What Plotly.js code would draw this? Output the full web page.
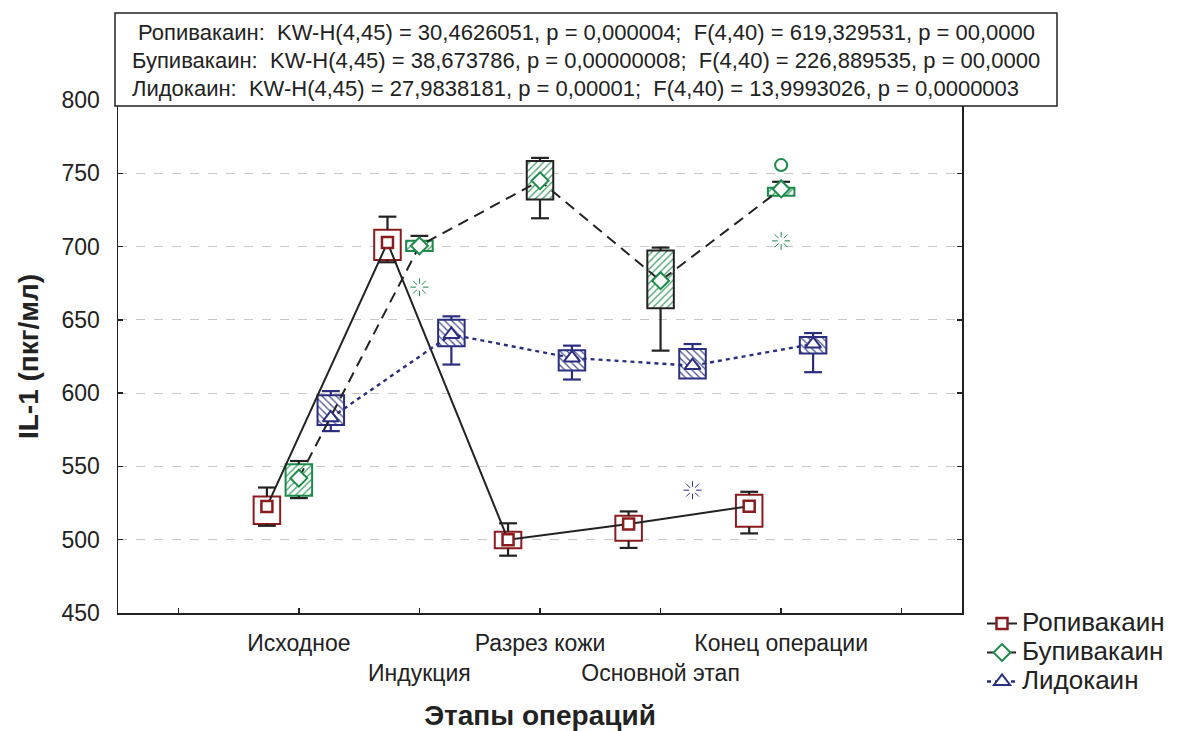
<!DOCTYPE html>
<html>
<head>
<meta charset="utf-8">
<script src="https://cdn.plot.ly/plotly-3.0.1.min.js"></script>
<style>html,body{margin:0;padding:0;background:#fff;}#chart{width:1202px;height:731px;}</style>
</head>
<body>
<div id="chart"></div>
<script>
// ---------- DATA ----------
const stages = ['Исходное', 'Индукция', 'Разрез кожи', 'Основной этап', 'Конец операции'];
const groupNames = ['Ропивакаин', 'Бупивакаин', 'Лидокаин'];

// Ропивакаин
const ropMean = [522.7, 702.7, 500.0, 510.7, 522.9];
const ropQ1   = [510.7, 690.9, 494.1, 499.3, 508.8];
const ropQ3   = [529.5, 711.4, 505.4, 516.3, 530.6];
const ropLo   = [509.5, 689.3, 489.1, 494.4, 504.3];
const ropHi   = [535.6, 720.4, 511.2, 519.3, 532.7];

// Бупивакаин
const bupMean = [542.0, 700.5, 744.9, 676.7, 739.3];
const bupQ1   = [530.0, 697.0, 732.2, 658.0, 734.7];
const bupQ3   = [551.5, 704.0, 758.3, 697.3, 740.1];
const bupLo   = [528.4, 697.0, 719.3, 629.0, 734.7];
const bupHi   = [553.7, 707.3, 760.5, 699.3, 744.2];
const bupOutStage = ['Конец операции'];
const bupOutVal   = [755.6];
const bupExtStage = ['Индукция', 'Конец операции'];
const bupExtVal   = [672.3, 703.9];

// Лидокаин
const lidMean = [583.2, 640.0, 624.0, 618.8, 633.5];
const lidQ1   = [578.2, 632.0, 615.4, 610.0, 627.0];
const lidQ3   = [598.6, 650.1, 629.3, 630.1, 638.3];
const lidLo   = [574.1, 619.5, 609.3, 610.0, 614.3];
const lidHi   = [601.4, 652.4, 632.4, 633.5, 641.0];
const lidExtStage = ['Основной этап'];
const lidExtVal   = [533.8];

const statLines = [
  '\u00a0Ропивакаин:\u00a0\u00a0KW-H(4,45) = 30,4626051, p = 0,000004;\u00a0\u00a0F(4,40) = 619,329531, p = 00,0000',
  'Бупивакаин:\u00a0\u00a0KW-H(4,45) = 38,673786, p = 0,00000008;\u00a0\u00a0F(4,40) = 226,889535, p = 00,0000',
  'Лидокаин:\u00a0\u00a0KW-H(4,45) = 27,9838181, p = 0,00001;\u00a0\u00a0F(4,40) = 13,9993026, p = 0,0000003'
];
const tickText = ['', 'Исходное', '<br>Индукция', 'Разрез кожи', '<br>Основной этап', 'Конец операции', ''];

// ---------- STYLE ----------
const RED = '#8a1c1f', GREEN = '#1d8a4b', NAVY = '#2a2e7c', DARK = '#222222';
const OFF = [-0.265, 0, 0.265];
const BOXW = 0.22, CAP = 0.074;
const FONT = 'Liberation Sans, Arial, sans-serif';

function pos(stage, off) { return stages.indexOf(stage) + 1 + off; }
function xsFor(off) { return stages.map(s => pos(s, off)); }

function boxTrace(off, q1, q3, fill, lineColors, pattern) {
  const t = {
    type: 'bar', x: xsFor(off), base: q1, y: q3.map((v, i) => v - q1[i]),
    width: BOXW, showlegend: false, hoverinfo: 'skip',
    marker: { color: fill, line: { color: lineColors, width: 2 } }
  };
  if (pattern) t.marker.pattern = pattern;
  return t;
}

function whiskerTrace(off, q1, q3, lo, hi, color) {
  const x = [], y = [];
  stages.forEach((s, i) => {
    const xc = pos(s, off);
    if (hi[i] > q3[i]) {
      x.push(xc, xc, null, xc - CAP, xc + CAP, null);
      y.push(q3[i], hi[i], null, hi[i], hi[i], null);
    }
    if (lo[i] < q1[i]) {
      x.push(xc, xc, null, xc - CAP, xc + CAP, null);
      y.push(q1[i], lo[i], null, lo[i], lo[i], null);
    }
  });
  return { type: 'scatter', mode: 'lines', x, y, showlegend: false, hoverinfo: 'skip',
           line: { color, width: 2.2 } };
}

function legendName(name) { return '<span style="font-size:26px">' + name + '</span>'; }

function meanTrace(off, mean, name, line, marker) {
  return { type: 'scatter', mode: 'lines+markers', x: xsFor(off), y: mean, name: legendName(name),
           line, marker, hoverinfo: 'skip' };
}

const data = [
  boxTrace(OFF[0], ropQ1, ropQ3, 'white', RED, null),
  boxTrace(OFF[1], bupQ1, bupQ3, 'white', [GREEN, GREEN, DARK, DARK, GREEN],
           { shape: '/', fgcolor: '#3f9e66', bgcolor: 'white', size: 5, solidity: 0.25 }),
  boxTrace(OFF[2], lidQ1, lidQ3, 'white', NAVY,
           { shape: '\\', fgcolor: '#4a4f94', bgcolor: 'white', size: 5, solidity: 0.25 }),
  whiskerTrace(OFF[0], ropQ1, ropQ3, ropLo, ropHi, DARK),
  whiskerTrace(OFF[1], bupQ1, bupQ3, bupLo, bupHi, DARK),
  whiskerTrace(OFF[2], lidQ1, lidQ3, lidLo, lidHi, NAVY),
  meanTrace(OFF[0], ropMean, groupNames[0], { color: DARK, width: 2 },
            { symbol: 'square', size: 11, color: 'white', line: { color: RED, width: 2.5 } }),
  meanTrace(OFF[1], bupMean, groupNames[1], { color: DARK, width: 2, dash: '11px,7px' },
            { symbol: 'diamond', size: 13, color: 'white', line: { color: GREEN, width: 2 } }),
  meanTrace(OFF[2], lidMean, groupNames[2], { color: NAVY, width: 2.4, dash: '4px,4px' },
            { symbol: 'triangle-up', size: 14, color: 'white', line: { color: NAVY, width: 2 } }),
  { type: 'scatter', mode: 'markers', x: bupOutStage.map(s => pos(s, OFF[1])), y: bupOutVal,
    showlegend: false, hoverinfo: 'skip',
    marker: { symbol: 'circle-open', size: 12, color: GREEN, line: { color: GREEN, width: 2 } } },
  { type: 'scatter', mode: 'markers', x: bupExtStage.map(s => pos(s, OFF[1])), y: bupExtVal,
    showlegend: false, hoverinfo: 'skip',
    marker: { symbol: 'asterisk-open', size: 15, color: GREEN, line: { color: GREEN, width: 1 } } },
  { type: 'scatter', mode: 'markers', x: lidExtStage.map(s => pos(s, OFF[2])), y: lidExtVal,
    showlegend: false, hoverinfo: 'skip',
    marker: { symbol: 'asterisk-open', size: 15, color: NAVY, line: { color: NAVY, width: 1 } } },
  { type: 'scatter', mode: 'markers',
    x: bupExtStage.map(s => pos(s, OFF[1])).concat(lidExtStage.map(s => pos(s, OFF[2]))),
    y: bupExtVal.concat(lidExtVal),
    showlegend: false, hoverinfo: 'skip',
    marker: { symbol: 'circle', size: 7, color: 'white', line: { width: 0 } } }
];

const W = 844, H = 513, L = 118, T = 100;
function px2x(p) { return (p - L) / W; }
function py2y(p) { return (T + H - p) / H; }

const annotations = statLines.map((txt, i) => ({
  xref: 'paper', yref: 'paper', x: px2x(130), y: py2y(32 + i * 28.3),
  xanchor: 'left', yanchor: 'middle', showarrow: false, text: txt, align: 'left',
  font: { family: FONT, size: 22, color: DARK }
}));

const layout = {
  width: 1202, height: 731,
  margin: { l: L, r: 1202 - L - W, t: T, b: 731 - T - H, autoexpand: false },
  paper_bgcolor: 'white', plot_bgcolor: 'white',
  font: { family: FONT, color: DARK },
  barmode: 'overlay', bargap: 0,
  showlegend: true,
  legend: { x: px2x(982), y: py2y(604), xanchor: 'left', yanchor: 'top',
            font: { family: FONT, size: 20, color: DARK }, bgcolor: 'rgba(0,0,0,0)',
            tracegroupgap: 0, itemwidth: 30 },
  xaxis: {
    range: [-0.5, 6.5], tickmode: 'array', tickvals: [0, 1, 2, 3, 4, 5, 6], ticktext: tickText,
    tickangle: 0, automargin: false,
    ticks: 'inside', ticklen: 5, tickwidth: 1.5, tickcolor: DARK,
    showline: true, linecolor: DARK, linewidth: 1.5, mirror: 'ticks', showgrid: false, zeroline: false,
    tickfont: { family: FONT, size: 23, color: DARK }, ticklabelstandoff: 9,
    title: { text: '<b>Этапы операций</b>', font: { family: FONT, size: 28, color: DARK }, standoff: 22 }
  },
  yaxis: {
    range: [450, 800], tickmode: 'linear', tick0: 450, dtick: 50, automargin: false,
    ticks: 'inside', ticklen: 5, tickwidth: 1.5, tickcolor: DARK,
    showline: true, linecolor: DARK, linewidth: 1.5, mirror: 'ticks',
    showgrid: true, gridcolor: '#c8c8c8', gridwidth: 1, griddash: 'dash', zeroline: false,
    tickfont: { family: FONT, size: 23, color: DARK }, ticklabelstandoff: 12,
    title: { text: '<b>IL-1 (пкг/мл)</b>', font: { family: FONT, size: 28, color: DARK }, standoff: 14 }
  },
  shapes: [{
    type: 'rect', xref: 'paper', yref: 'paper', layer: 'above',
    x0: px2x(115), x1: px2x(1057), y0: py2y(106), y1: py2y(13),
    line: { color: DARK, width: 1.5 }, fillcolor: 'white'
  }],
  annotations
};

Plotly.newPlot('chart', data, layout, { staticPlot: true, displayModeBar: false });
</script>
</body>
</html>
